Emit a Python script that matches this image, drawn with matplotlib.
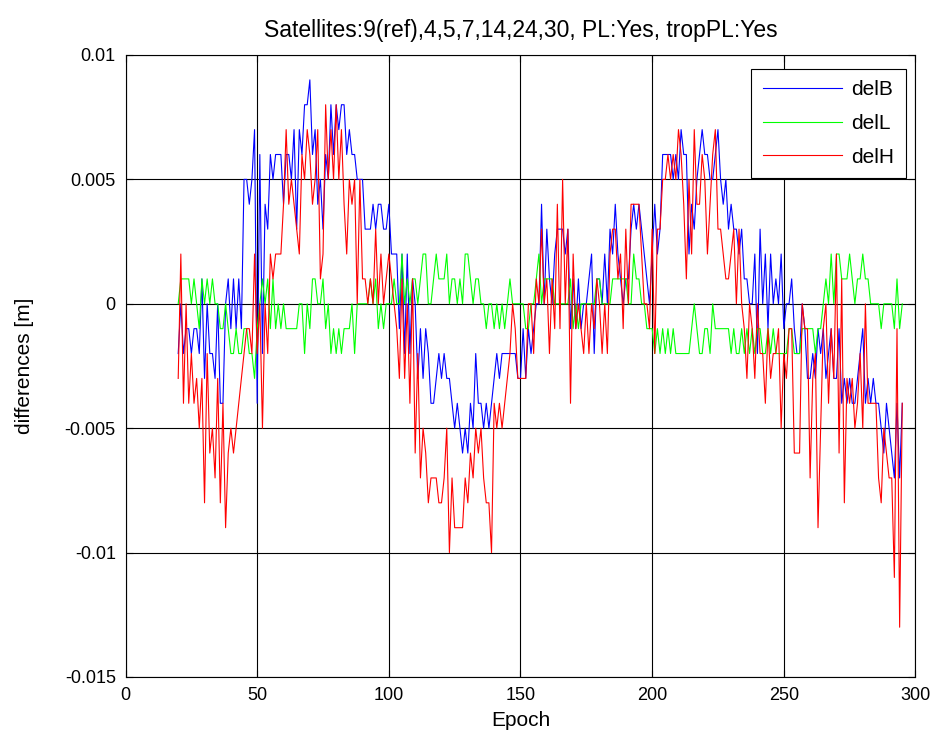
import matplotlib
matplotlib.use("Agg")
import matplotlib.pyplot as plt

# -----------------------------------
# DATA (values in mm)
# -----------------------------------
epochs = list(range(20, 296))

delB_mm = [
    -2, 0, -2, -1, -1, -2, -1, -1, -2, 1,
    -3, 0, -2, -2, -3, 0, -4, -4, 0, 1,
    -1, 1, -1, 1, -1, 5, 5, 4, 5, 7,
    -4, 6, -2, 4, 3, 6, 5, 6, 6, 6,
    4, 6, 6, 5, 7, 3, 7, 6, 8, 8,
    9, 6, 7, 4, 5, 3, 6, 5, 8, 6,
    8, 7, 8, 8, 6, 7, 6, 6, 5, 5,
    5, 3, 3, 3, 4, 3, 4, 4, 3, 3,
    4, 2, 2, 2, -1, 2, -2, 2, -2, 1,
    0, -3, -1, -3, -1, -2, -4, -4, -3, -2,
    -3, -2, -3, -3, -4, -5, -4, -5, -6, -5,
    -6, -4, -5, -2, -4, -4, -5, -4, -5, -4,
    -3, -2, -3, -2, -2, -2, -2, -2, -2, -3,
    -3, -1, -3, -1, -2, -1, 0, 0, 4, 0,
    3, 1, 0, 2, 3, 3, 3, 2, 3, -1,
    1, -1, 1, -1, 0, 0, 1, 2, -2, 1,
    1, 0, 2, 0, 3, 2, 4, 2, 1, 0,
    1, 1, 3, 4, 3, 4, 3, 2, 1, 0,
    2, 4, 2, 3, 6, 6, 6, 6, 5, 6,
    5, 7, 6, 6, 2, 4, 3, 5, 6, 7,
    6, 6, 5, 5, 6, 7, 5, 4, 5, 3,
    4, 3, 3, 2, 3, 1, 1, 0, 0, 2,
    -2, 3, 0, 2, -1, 2, 0, 1, 0, 2,
    -1, 0, 0, 1, -1, -2, -2, 0, -1, -3,
    -3, -2, -3, -1, -2, -1, -3, -2, -1, -3,
    -3, -1, -4, -3, -4, -3, -4, -4, -3, -2,
    -1, -4, -3, -4, -3, -4, -4, -5, -6, -4,
    -5, -6, -7, -4, -7, -4,
]

delL_mm = [
    0, 1, 1, 1, 1, 0, 1, 0, -1, 1,
    0, 1, 0, 1, 0, 0, -1, -1, 0, -1,
    -2, -2, -1, -2, -2, -1, -1, -2, -2, -3,
    -1, 0, 1, 0, 1, -1, 1, -1, 0, -1,
    0, -1, -1, -1, -1, -1, 0, 0, -2, 0,
    -1, 1, 1, 0, 0, 1, -1, 0, -2, -1,
    -2, -1, -2, -1, -1, -1, 0, -2, 0, 0,
    0, 0, 0, 1, 0, 1, -1, 0, -1, 0,
    0, 0, 1, 0, 0, 2, 0, 1, 0, 1,
    1, 0, 1, 2, 2, 0, 0, 1, 2, 1,
    1, 1, 2, 0, 1, 1, 0, 1, 0, 2,
    2, 1, 0, 1, 1, 0, 0, -1, 0, 0,
    -1, 0, -1, 0, -1, 0, 1, 0, 0, 0,
    0, 0, -1, -1, 0, 0, 1, 2, 0, 1,
    1, 1, 1, 0, 0, 0, 0, 0, 0, 1,
    -1, 0, -1, 0, 0, 0, 0, 0, 0, 1,
    1, 0, 0, 0, 0, 1, 1, 1, 1, 1,
    1, 0, 0, 2, 1, 1, 0, 0, -1, -1,
    -1, -2, -1, -2, -1, -2, -1, -2, -1, -2,
    -2, -2, -2, -2, -2, -1, 0, -1, -2, -2,
    -1, -1, -2, 0, -1, -1, -1, -1, -1, -1,
    -2, -1, -2, -2, -1, -2, -1, -2, -1, -2,
    -1, -1, -2, -2, -1, -2, -1, -2, -2, -2,
    -2, -2, -1, -1, -2, -2, -2, -1, -1, -1,
    -1, -1, -2, -1, -1, 0, 1, 0, 2, 0,
    2, 2, 1, 1, 1, 2, 1, 0, 1, 1,
    2, 1, 1, 0, 0, 0, 0, -1, 0, 0,
    0, 0, -1, 1, -1, 0,
]

delH_mm = [
    -3, 2, -4, 0, -4, -2, -4, -3, -5, -3,
    -8, -2, -6, -5, -7, -3, -8, -4, -9, -6,
    -5, -6, -5, -4, -3, -2, -1, -1, -2, 2,
    -2, 0, -5, 0, -2, 2, 1, 2, 2, 2,
    4, 7, 4, 5, 4, 3, 2, 6, 5, 7,
    6, 4, 5, 7, 1, 2, 8, 5, 7, 5,
    8, 5, 7, 4, 2, 5, 4, 5, 0, 5,
    1, 1, 0, 1, 0, 3, 0, 2, 0, 1,
    2, 1, 0, -1, -3, 1, -3, 0, -4, 1,
    -6, -2, -7, -5, -6, -8, -7, -7, -7, -8,
    -8, -7, -5, -10, -7, -9, -9, -9, -9, -7,
    -8, -6, -7, -5, -6, -5, -7, -8, -8, -10,
    -4, -5, -4, -5, -4, -3, -2, 0, -1, -3,
    -3, -3, -3, 0, 0, -2, 1, 0, 3, 0,
    1, -2, 1, -1, 4, -1, 5, 0, 3, -4,
    2, -1, 0, -1, -2, 0, -2, 0, -1, 1,
    0, -2, 0, -2, 2, 3, 3, 1, 2, -1,
    3, 0, 4, 4, 4, 4, 2, 0, 0, -1,
    3, -2, 3, 3, 5, 5, 6, 5, 6, 5,
    7, 6, 4, 1, 5, 2, 7, 4, 4, 6,
    5, 2, 4, 6, 7, 3, 3, 2, 1, 1,
    2, 3, 0, 3, 0, -1, -3, 0, -1, -3,
    0, -2, -2, -4, -1, -3, -2, -2, -1, -5,
    -2, -3, -1, -1, -6, -6, -6, 0, -1, -1,
    -7, -3, -2, -9, -5, -1, 0, -4, -1, -3,
    2, -6, 1, -8, -3, -4, -3, -5, -4, -2,
    -5, 0, -4, -4, -4, -4, -7, -8, -5, -6,
    -7, -7, -11, -1, -13, -4,
]

title_text = "Satellites:9(ref),4,5,7,14,24,30, PL:Yes, tropPL:Yes"
ytick_vals = [-0.015, -0.01, -0.005, 0, 0.005, 0.01]
ytick_labels = ["-0.015", "-0.01", "-0.005", "0", "0.005", "0.01"]
xtick_vals = [0, 50, 100, 150, 200, 250, 300]

# mm -> m
delB = [v / 1000 for v in delB_mm]
delL = [v / 1000 for v in delL_mm]
delH = [v / 1000 for v in delH_mm]

# -----------------------------------
# PLOT (MATLAB-ish look)
# -----------------------------------
plt.rcParams["font.family"] = ["Liberation Sans", "DejaVu Sans"]

fig = plt.figure(figsize=(9.39, 7.36), dpi=100)
ax = fig.add_axes([0.1337, 0.0802, 0.8412, 0.8451])

ax.plot(epochs, delB, color=(0, 0, 1), lw=0.8, label="delB")
ax.plot(epochs, delL, color=(0, 1, 0), lw=0.8, label="delL")
ax.plot(epochs, delH, color=(1, 0, 0), lw=0.8, label="delH")

ax.set_xlim(0, 300)
ax.set_ylim(-0.015, 0.01)
ax.set_xticks(xtick_vals)
ax.set_yticks(ytick_vals)
ax.set_yticklabels(ytick_labels)
ax.grid(True, color="black", linestyle="-", linewidth=0.8)
ax.set_axisbelow(True)
ax.tick_params(direction="in", top=True, right=True, length=5, width=0.8,
               labelsize=13, pad=7)
for s in ax.spines.values():
    s.set_linewidth(0.8)

ax.set_title(title_text, fontsize=16.5, pad=13)
ax.set_xlabel("Epoch", fontsize=15, labelpad=5)
ax.set_ylabel("differences [m]", fontsize=15, labelpad=22)

leg = ax.legend(loc="upper right", bbox_to_anchor=(0.988, 0.9775),
                borderaxespad=0, fancybox=False, framealpha=1,
                edgecolor="black", handlelength=3.8, handletextpad=0.45,
                labelspacing=0.7, borderpad=0.55, fontsize=15)
leg.get_frame().set_linewidth(0.8)

plt.savefig("out.png", dpi=100)
